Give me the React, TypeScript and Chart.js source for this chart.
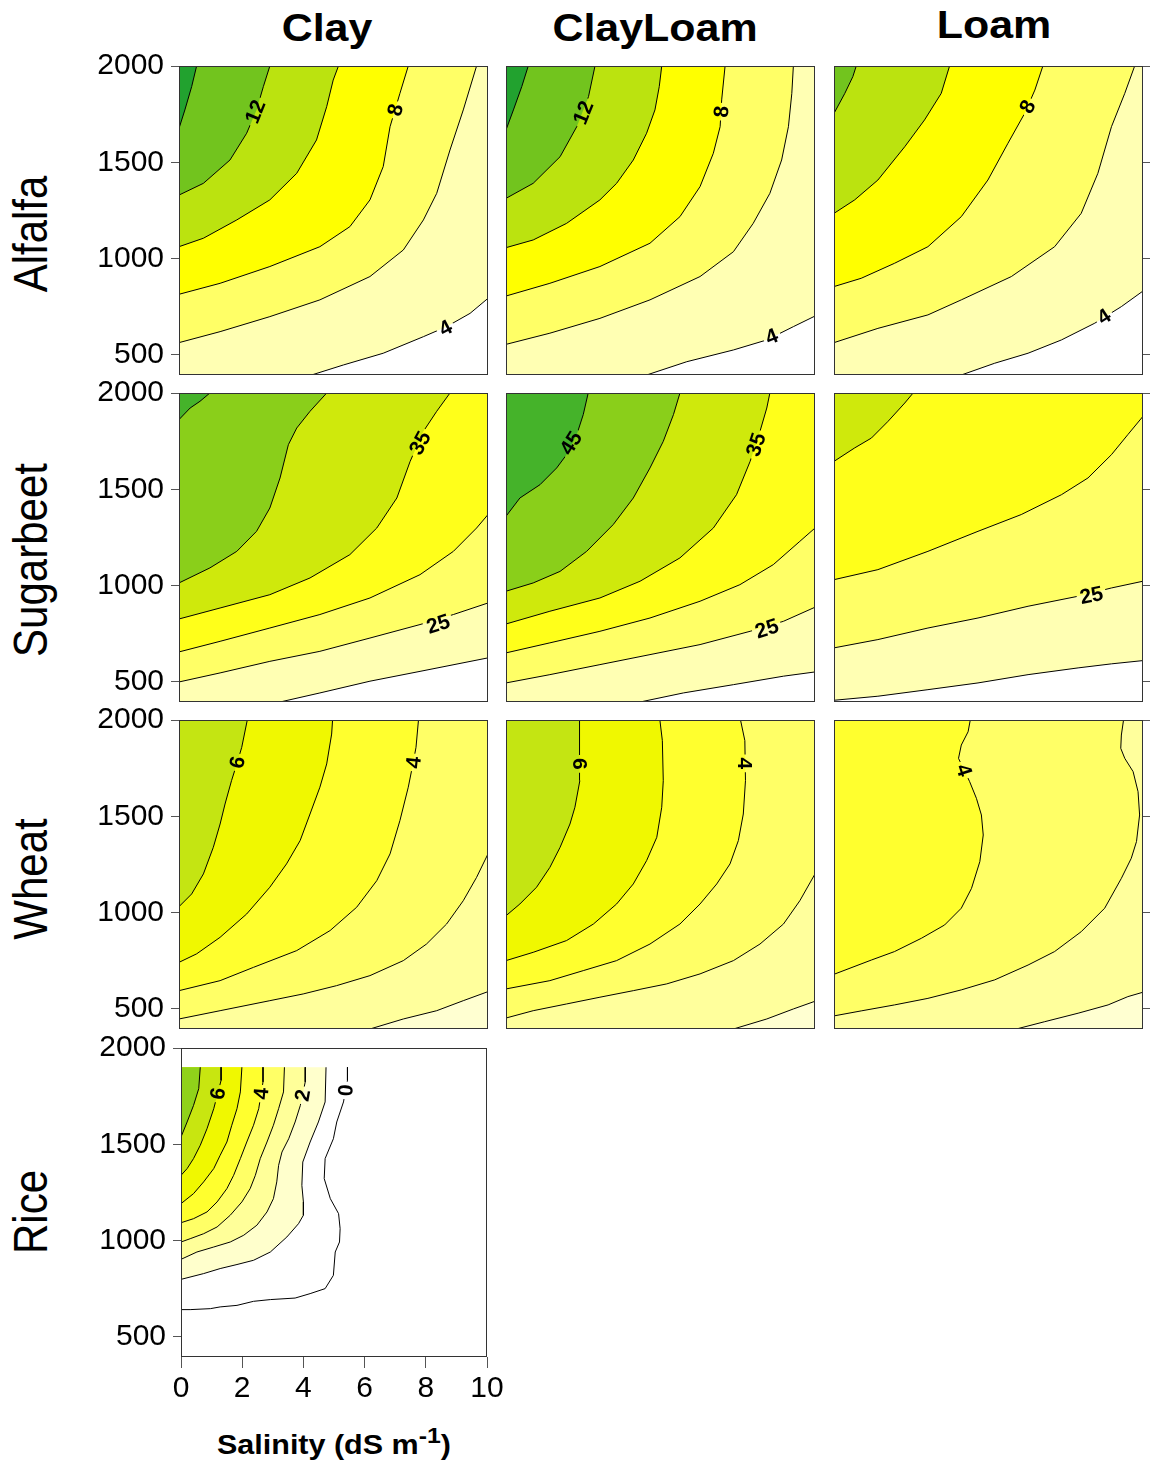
import React, { useEffect, useRef } from 'react';
import { Chart, registerables } from 'chart.js';

Chart.register(...registerables);

// ---------------- axes ----------------
const SALINITY_TICKS = [0, 2, 4, 6, 8, 10];
const WATER_TICKS = [500, 1000, 1500, 2000];
const SALINITY_MIN = 0;
const SALINITY_MAX = 10;
const WATER_MIN = 396;
const WATER_MAX = 2000;
const RICE_WATER_TOP = 1900;

const SOILS = ['Clay', 'ClayLoam', 'Loam'];
const CROPS = ['Alfalfa', 'Sugarbeet', 'Wheat', 'Rice'];
const X_TITLE = 'Salinity (dS m';
const X_TITLE_SUP = '-1';

type Pt = [number, number]; // [salinity dS/m, water]
type Label = { text: string; x: number; y: number; angle: number };

// ---------------- contour lines (lowest level first) ----------------
const ALFALFA_CLAY: Pt[][] = [
  [[4.29, 396], [5.32, 448], [6.61, 509], [7.91, 595], [8.66, 647], [9.42, 716], [10, 794]],
  [[0, 564], [1.33, 621], [2.94, 699], [4.56, 786], [6.18, 907], [7.26, 1045], [7.91, 1201], [8.34, 1339], [8.77, 1564], [9.2, 1772], [9.63, 2000]],
  [[0, 815], [1.33, 872], [2.94, 959], [4.56, 1062], [5.53, 1166], [6.18, 1305], [6.61, 1478], [6.83, 1685], [7.15, 1858], [7.42, 2000]],
  [[0, 1062], [0.79, 1106], [1.87, 1201], [2.94, 1305], [3.81, 1443], [4.45, 1616], [4.78, 1789], [4.99, 1927], [5.16, 2000]],
  [[0, 1330], [0.79, 1391], [1.65, 1512], [2.19, 1651], [2.51, 1772], [2.73, 1893], [2.94, 2000]],
  [[0, 1676], [0.19, 1772], [0.41, 1893], [0.57, 2000]],
];
const ALFALFA_CLAYLOAM: Pt[][] = [
  [[4.55, 396], [5.85, 465], [7.36, 526], [8.44, 578], [9.3, 647], [10, 702]],
  [[0, 555], [1.42, 613], [3.04, 690], [4.66, 786], [6.28, 907], [7.36, 1036], [8.0, 1183], [8.54, 1339], [8.92, 1512], [9.14, 1685], [9.25, 1858], [9.3, 2000]],
  [[0, 806], [1.42, 872], [3.04, 959], [4.66, 1080], [5.63, 1218], [6.28, 1374], [6.71, 1547], [6.93, 1685], [6.98, 1824], [7.09, 2000]],
  [[0, 1057], [0.88, 1097], [1.96, 1183], [3.04, 1305], [3.58, 1391], [4.12, 1512], [4.55, 1651], [4.82, 1772], [4.96, 1893], [5.04, 2000]],
  [[0, 1313], [0.88, 1391], [1.75, 1529], [2.29, 1685], [2.67, 1841], [2.88, 2000]],
  [[0, 1668], [0.24, 1772], [0.51, 1893], [0.72, 2000]],
];
const ALFALFA_LOAM: Pt[][] = [
  [[4.12, 396], [5.2, 457], [6.28, 509], [7.36, 578], [8.44, 665], [9.3, 751], [10, 832]],
  [[0, 564], [1.42, 638], [3.04, 708], [4.12, 786], [5.74, 907], [7.14, 1062], [8.0, 1235], [8.54, 1443], [8.98, 1685], [9.41, 1858], [9.73, 2000]],
  [[0, 855], [0.88, 898], [1.96, 976], [3.04, 1062], [4.12, 1218], [4.98, 1408], [5.63, 1599], [6.17, 1754], [6.5, 1875], [6.76, 2000]],
  [[0, 1235], [0.67, 1305], [1.42, 1408], [2.29, 1581], [2.93, 1720], [3.47, 1858], [3.74, 2000]],
  [[0, 1754], [0.35, 1858], [0.61, 1945], [0.72, 2000]],
];
const SUGARBEET_CLAY: Pt[][] = [
  [[3.27, 396], [4.56, 443], [6.18, 504], [7.8, 555], [10, 625]],
  [[0, 500], [1.33, 547], [2.94, 607], [4.56, 659], [6.18, 728], [7.8, 798], [8.88, 850], [10, 910]],
  [[0, 656], [1.33, 711], [2.94, 780], [4.56, 850], [6.18, 936], [7.8, 1057], [8.88, 1178], [9.63, 1299], [10, 1369]],
  [[0, 827], [1.33, 884], [2.94, 953], [4.24, 1040], [5.53, 1161], [6.4, 1299], [7.05, 1455], [7.48, 1645], [7.91, 1801], [8.34, 1905], [8.77, 2000]],
  [[0, 1014], [1.0, 1092], [1.87, 1178], [2.51, 1282], [2.94, 1403], [3.27, 1559], [3.54, 1732], [3.81, 1818], [4.24, 1905], [4.78, 2000]],
  [[0, 1862], [0.36, 1922], [0.68, 1957], [1.0, 2000]],
];
const SUGARBEET_CLAYLOAM: Pt[][] = [
  [[4.34, 396], [5.74, 443], [7.36, 486], [8.98, 530], [10, 552]],
  [[0, 495], [1.42, 538], [3.04, 590], [4.66, 642], [6.28, 694], [7.9, 763], [8.98, 815], [10, 888]],
  [[0, 651], [1.42, 703], [3.04, 763], [4.66, 832], [6.28, 919], [7.57, 1005], [8.65, 1109], [9.51, 1230], [10, 1299]],
  [[0, 801], [1.42, 867], [3.04, 936], [4.34, 1023], [5.63, 1144], [6.71, 1299], [7.46, 1472], [7.9, 1645], [8.22, 1801], [8.44, 1922], [8.54, 2000]],
  [[0, 971], [0.88, 1014], [1.75, 1074], [2.61, 1178], [3.47, 1317], [4.12, 1455], [4.66, 1611], [5.09, 1749], [5.42, 1888], [5.63, 2000]],
  [[0, 1360], [0.45, 1455], [1.1, 1524], [1.64, 1611], [1.96, 1680], [2.29, 1784], [2.5, 1888], [2.66, 2000]],
];
const SUGARBEET_LOAM: Pt[][] = [
  [[0, 405], [1.42, 426], [3.04, 460], [4.66, 495], [6.28, 538], [7.9, 573], [8.98, 594], [10, 611]],
  [[0, 677], [1.42, 720], [3.04, 780], [4.66, 832], [6.28, 893], [7.9, 945], [8.98, 988], [10, 1023]],
  [[0, 1031], [1.42, 1083], [3.04, 1178], [4.66, 1282], [6.06, 1369], [7.36, 1472], [8.22, 1559], [8.98, 1680], [9.51, 1784], [10, 1879]],
  [[0, 1645], [0.67, 1715], [1.21, 1766], [1.75, 1853], [2.29, 1948], [2.56, 2000]],
];
const WHEAT_CLAY: Pt[][] = [
  [[6.18, 396], [7.26, 448], [8.34, 491], [9.2, 543], [10, 590]],
  [[0, 448], [1.33, 491], [2.94, 543], [4.02, 578], [5.1, 621], [6.18, 673], [7.26, 751], [8.01, 837], [8.66, 941], [9.2, 1062], [9.63, 1183], [10, 1305]],
  [[0, 595], [1.33, 647], [2.41, 716], [3.81, 803], [4.89, 907], [5.75, 1028], [6.4, 1166], [6.83, 1305], [7.15, 1478], [7.42, 1651], [7.58, 1780], [7.67, 1858], [7.75, 2000]],
  [[0, 742], [0.57, 786], [1.33, 872], [2.19, 993], [2.94, 1132], [3.48, 1253], [3.92, 1374], [4.24, 1512], [4.56, 1651], [4.78, 1772], [4.94, 1927], [4.97, 2000]],
  [[0, 1031], [0.41, 1097], [0.79, 1201], [1.11, 1339], [1.33, 1460], [1.49, 1564], [1.7, 1685], [1.87, 1772], [2.03, 1858], [2.21, 2000]],
];
const WHEAT_CLAYLOAM: Pt[][] = [
  [[7.36, 396], [8.44, 448], [9.3, 500], [10, 540]],
  [[0, 453], [0.88, 491], [1.96, 526], [3.04, 561], [4.12, 595], [5.2, 630], [6.28, 682], [7.36, 751], [8.22, 837], [8.98, 941], [9.51, 1062], [10, 1201]],
  [[0, 604], [1.42, 647], [2.5, 699], [3.58, 751], [4.66, 837], [5.63, 941], [6.28, 1045], [6.82, 1149], [7.25, 1253], [7.52, 1374], [7.68, 1512], [7.75, 1685], [7.73, 1893], [7.59, 2000]],
  [[0, 751], [0.88, 794], [1.96, 855], [2.83, 941], [3.58, 1045], [4.12, 1149], [4.55, 1270], [4.88, 1391], [5.04, 1547], [5.09, 1685], [5.06, 1893], [4.98, 2000]],
  [[0, 984], [0.45, 1045], [0.99, 1132], [1.42, 1235], [1.75, 1339], [2.07, 1460], [2.23, 1547], [2.39, 1685], [2.39, 1806], [2.37, 2000]],
];
const WHEAT_LOAM: Pt[][] = [
  [[5.9, 396], [6.82, 434], [7.9, 478], [8.87, 521], [9.51, 564], [10, 587]],
  [[9.37, 2000], [9.3, 1922], [9.28, 1853], [9.41, 1801], [9.68, 1732], [9.84, 1628], [9.89, 1507], [9.79, 1369], [9.62, 1282], [9.3, 1178], [8.76, 1023], [8.0, 901], [7.14, 798], [6.28, 728], [5.2, 651], [4.12, 599], [3.04, 555], [1.96, 521], [0.88, 490], [0, 464]],
  [[4.41, 2000], [4.34, 1939], [4.12, 1870], [4.03, 1801], [4.39, 1680], [4.61, 1593], [4.77, 1507], [4.83, 1403], [4.72, 1265], [4.45, 1126], [4.12, 1023], [3.58, 936], [2.83, 867], [1.96, 798], [1.21, 754], [0, 680]],
];
const RICE_CLAY: Pt[][] = [
  [[5.44, 1900], [5.44, 1832], [5.31, 1720], [5.09, 1616], [4.98, 1529], [4.71, 1426], [4.68, 1322], [4.88, 1218], [5.15, 1140], [5.2, 1062], [5.18, 993], [5.04, 941], [4.98, 820], [4.71, 751], [4.22, 725], [3.73, 702], [2.92, 694], [2.37, 685], [1.83, 664], [1.28, 656], [0.96, 647], [0.3, 642], [0, 642]],
  [[4.74, 1900], [4.71, 1720], [4.49, 1616], [4.22, 1512], [3.98, 1408], [3.95, 1287], [4.0, 1201], [4.0, 1132], [3.84, 1088], [3.46, 1019], [2.92, 941], [2.37, 898], [1.83, 876], [1.28, 855], [0.74, 829], [0, 799]],
  [[4.06, 1900], [4.06, 1824], [3.9, 1702], [3.73, 1616], [3.52, 1529], [3.3, 1460], [3.19, 1391], [3.13, 1305], [3.02, 1218], [2.81, 1149], [2.48, 1080], [2.05, 1028], [1.61, 993], [1.07, 967], [0.52, 941], [0, 903]],
  [[3.38, 1900], [3.35, 1772], [3.19, 1685], [3.02, 1599], [2.81, 1512], [2.59, 1426], [2.43, 1339], [2.26, 1270], [1.99, 1201], [1.61, 1132], [1.18, 1071], [0.74, 1036], [0.3, 1010], [0, 993]],
  [[2.68, 1900], [2.68, 1824], [2.54, 1685], [2.37, 1599], [2.15, 1512], [1.94, 1426], [1.72, 1339], [1.5, 1270], [1.18, 1201], [0.85, 1149], [0.41, 1114], [0, 1093]],
  [[1.99, 1900], [1.94, 1772], [1.83, 1685], [1.66, 1599], [1.5, 1512], [1.28, 1443], [1.07, 1374], [0.74, 1305], [0.41, 1244], [0, 1192]],
  [[1.31, 1900], [1.31, 1832], [1.07, 1685], [0.85, 1581], [0.63, 1495], [0.41, 1426], [0.2, 1374], [0, 1339]],
  [[0.63, 1900], [0.58, 1789], [0.41, 1702], [0.2, 1616], [0, 1538]],
];

// ---------------- contour labels ----------------
const ALFALFA_CLAY_LABELS: Label[] = [
  { text: '12', x: 2.47, y: 1763, angle: -68 },
  { text: '8', x: 7.0, y: 1772, angle: -76 },
  { text: '4', x: 8.62, y: 640, angle: -28 },
];
const ALFALFA_CLAYLOAM_LABELS: Label[] = [
  { text: '12', x: 2.5, y: 1758, angle: -68 },
  { text: '8', x: 6.97, y: 1763, angle: -86 },
  { text: '4', x: 8.6, y: 596, angle: -22 },
];
const ALFALFA_LOAM_LABELS: Label[] = [
  { text: '8', x: 6.26, y: 1789, angle: -62 },
  { text: '4', x: 8.74, y: 699, angle: -33 },
];
const SUGARBEET_CLAY_LABELS: Label[] = [
  { text: '35', x: 7.8, y: 1740, angle: -62 },
  { text: '25', x: 8.39, y: 801, angle: -18 },
];
const SUGARBEET_CLAYLOAM_LABELS: Label[] = [
  { text: '45', x: 2.1, y: 1740, angle: -58 },
  { text: '35', x: 8.09, y: 1732, angle: -72 },
  { text: '25', x: 8.44, y: 777, angle: -18 },
];
const SUGARBEET_LOAM_LABELS: Label[] = [{ text: '25', x: 8.33, y: 950, angle: -12 }];
const WHEAT_CLAY_LABELS: Label[] = [
  { text: '6', x: 1.89, y: 1780, angle: -78 },
  { text: '4', x: 7.59, y: 1780, angle: -84 },
];
const WHEAT_CLAYLOAM_LABELS: Label[] = [
  { text: '6', x: 2.39, y: 1772, angle: 90 },
  { text: '4', x: 7.74, y: 1775, angle: 90 },
];
const WHEAT_LOAM_LABELS: Label[] = [{ text: '4', x: 4.21, y: 1740, angle: 72 }];
const RICE_CLAY_LABELS: Label[] = [
  { text: '6', x: 1.2, y: 1763, angle: -80 },
  { text: '4', x: 2.62, y: 1763, angle: -85 },
  { text: '2', x: 3.97, y: 1755, angle: -80 },
  { text: '0', x: 5.38, y: 1780, angle: -85 },
];

// ---------------- colours: [below lowest contour, above contour 1, above contour 2, ...] ----------------
const ALFALFA_COLORS = ['#FFFFFF', '#FFFFB3', '#FFFF66', '#FFFF00', '#BBE30F', '#72C41E', '#22A22F'];
const SUGARBEET_COLORS = ['#FFFFFF', '#FFFFB3', '#FFFF66', '#FFFF1A', '#CFE90C', '#8ACF1A', '#45B32A'];
const WHEAT_COLORS = ['#FFFFD1', '#FFFF9C', '#FFFF66', '#FFFF2E', '#F0F800', '#C4E512'];
const RICE_COLORS = ['#FFFFFF', '#FFFFFF', '#FFFFCC', '#FFFF99', '#FFFF66', '#FFFF2E', '#F0F800', '#C8E610', '#90D21A'];

type PanelSpec = {
  row: number;
  col: number;
  lines: Pt[][];
  labels: Label[];
  colors: string[];
  top?: number;
  xAxis?: boolean;
};

const PANELS: PanelSpec[] = [
  { row: 0, col: 0, lines: ALFALFA_CLAY, labels: ALFALFA_CLAY_LABELS, colors: ALFALFA_COLORS },
  { row: 0, col: 1, lines: ALFALFA_CLAYLOAM, labels: ALFALFA_CLAYLOAM_LABELS, colors: ALFALFA_COLORS },
  { row: 0, col: 2, lines: ALFALFA_LOAM, labels: ALFALFA_LOAM_LABELS, colors: ALFALFA_COLORS },
  { row: 1, col: 0, lines: SUGARBEET_CLAY, labels: SUGARBEET_CLAY_LABELS, colors: SUGARBEET_COLORS },
  { row: 1, col: 1, lines: SUGARBEET_CLAYLOAM, labels: SUGARBEET_CLAYLOAM_LABELS, colors: SUGARBEET_COLORS },
  { row: 1, col: 2, lines: SUGARBEET_LOAM, labels: SUGARBEET_LOAM_LABELS, colors: SUGARBEET_COLORS },
  { row: 2, col: 0, lines: WHEAT_CLAY, labels: WHEAT_CLAY_LABELS, colors: WHEAT_COLORS },
  { row: 2, col: 1, lines: WHEAT_CLAYLOAM, labels: WHEAT_CLAYLOAM_LABELS, colors: WHEAT_COLORS },
  { row: 2, col: 2, lines: WHEAT_LOAM, labels: WHEAT_LOAM_LABELS, colors: WHEAT_COLORS },
  { row: 3, col: 0, lines: RICE_CLAY, labels: RICE_CLAY_LABELS, colors: RICE_COLORS, top: RICE_WATER_TOP, xAxis: true },
];

// ---------------- layout ----------------
const FONT = '"Liberation Sans", Arial, Helvetica, sans-serif';
const COL_LEFT = [179, 506, 834];
const ROW_TOP = [66, 393, 720, 1048];
const PLOT_W = 309;
const PLOT_H = 309;
const PAD_V = 30;

function geometry(p: PanelSpec) {
  const rice = !!p.xAxis;
  const plotLeft = rice ? 181 : COL_LEFT[p.col];
  const plotW = rice ? 306 : PLOT_W;
  const leftAxis = p.col === 0 ? plotLeft : 0;
  const padLeft = p.col === 0 ? 0 : 10;
  const rightAxis = p.col === 2 ? 8 : 0;
  const padRight = p.col === 2 ? 0 : 22;
  const bottomAxis = rice ? 62 : 0;
  const padBottom = rice ? 0 : PAD_V;
  return {
    left: plotLeft - leftAxis - padLeft,
    top: ROW_TOP[p.row] - PAD_V,
    width: padLeft + leftAxis + plotW + rightAxis + padRight,
    height: PAD_V + PLOT_H + bottomAxis + padBottom,
    leftAxis, padLeft, rightAxis, padRight, bottomAxis, padBottom,
  };
}

// boundary parameter going round the plot: right edge 0..1, top 1..2, left 2..3, bottom 3..4
function edgeParam(p: Pt, top: number) {
  const [x, y] = p;
  const h = top - WATER_MIN;
  const w = SALINITY_MAX - SALINITY_MIN;
  const d = [(SALINITY_MAX - x) / w, (top - y) / h, (x - SALINITY_MIN) / w, (y - WATER_MIN) / h];
  let k = 0;
  for (let i = 1; i < 4; i++) if (d[i] < d[k]) k = i;
  if (k === 0) return (y - WATER_MIN) / h;
  if (k === 1) return 1 + (SALINITY_MAX - x) / w;
  if (k === 2) return 2 + (top - y) / h;
  return 3 + (x - SALINITY_MIN) / w;
}

// polygon of the region above / left of a contour (higher values)
function upperLeftPolygon(line: Pt[], top: number): Pt[] {
  const corners: { s: number; p: Pt }[] = [
    { s: 1, p: [SALINITY_MAX, top] },
    { s: 2, p: [SALINITY_MIN, top] },
    { s: 3, p: [SALINITY_MIN, WATER_MIN] },
  ];
  const s0 = edgeParam(line[0], top);
  const s1 = edgeParam(line[line.length - 1], top);
  const pts = line.slice();
  if (s1 > s0) {
    for (let i = corners.length - 1; i >= 0; i--) if (corners[i].s > s0 && corners[i].s < s1) pts.push(corners[i].p);
  } else {
    for (let i = 0; i < corners.length; i++) if (corners[i].s > s1 && corners[i].s < s0) pts.push(corners[i].p);
  }
  return pts;
}

const LABEL_FONT = 'bold 21px ' + FONT;
const LABEL_H = 20;

function labelBoxes(chart: any, labels: Label[]) {
  const ctx = chart.ctx as CanvasRenderingContext2D;
  ctx.save();
  ctx.font = LABEL_FONT;
  const res = labels.map((l) => {
    const px = chart.scales.x.getPixelForValue(l.x);
    const py = chart.scales.y.getPixelForValue(l.y);
    const w = ctx.measureText(l.text).width + 6;
    const h = LABEL_H;
    const a = (l.angle * Math.PI) / 180;
    const c = Math.cos(a), s = Math.sin(a);
    const corners = [[-w / 2, -h / 2], [w / 2, -h / 2], [w / 2, h / 2], [-w / 2, h / 2]].map(([dx, dy]) => [
      px + dx * c - dy * s,
      py + dx * s + dy * c,
    ]);
    return { px, py, a, corners, text: l.text };
  });
  ctx.restore();
  return res;
}

function buildConfig(p: PanelSpec, g: ReturnType<typeof geometry>): any {
  const top = p.top ?? WATER_MAX;
  const n = p.lines.length;
  const datasets: any[] = [];
  p.lines.forEach((line, i) => {
    datasets.push({
      data: upperLeftPolygon(line, top).map(([x, y]) => ({ x, y })),
      fill: 'shape',
      backgroundColor: p.colors[i + 1],
      borderColor: 'rgba(0,0,0,0)',
      borderWidth: 0,
      pointRadius: 0,
      tension: 0,
      order: 2 * n - i,
    });
  });
  p.lines.forEach((line) => {
    datasets.push({
      data: line.map(([x, y]) => ({ x, y })),
      fill: false,
      borderColor: '#000000',
      borderWidth: 1,
      pointRadius: 0,
      tension: 0,
      order: 0,
      isContour: true,
    });
  });

  const tickFont = { family: FONT, size: 30 };
  const scales: any = {
    x: {
      type: 'linear',
      min: SALINITY_MIN,
      max: SALINITY_MAX,
      display: !!p.xAxis,
      position: 'bottom',
      afterBuildTicks: (s: any) => {
        s.ticks = SALINITY_TICKS.map((v) => ({ value: v }));
      },
      afterFit: (s: any) => {
        s.height = g.bottomAxis;
      },
      grid: { drawOnChartArea: false, drawTicks: true, tickLength: 11, color: '#555555', lineWidth: 1 },
      border: { display: false },
      ticks: { font: tickFont, color: '#000', padding: 3, maxRotation: 0, autoSkip: false, callback: (v: any) => String(v) },
    },
    y: {
      type: 'linear',
      min: WATER_MIN,
      max: WATER_MAX,
      display: p.col === 0,
      position: 'left',
      afterBuildTicks: (s: any) => {
        s.ticks = WATER_TICKS.map((v) => ({ value: v }));
      },
      afterFit: (s: any) => {
        s.width = g.leftAxis;
      },
      grid: { drawOnChartArea: false, drawTicks: true, tickLength: 8, color: '#555555', lineWidth: 1 },
      border: { display: false },
      ticks: { font: tickFont, color: '#000', padding: 7, autoSkip: false, callback: (v: any) => String(v) },
    },
  };
  if (p.col === 2) {
    scales.yr = {
      type: 'linear',
      min: WATER_MIN,
      max: WATER_MAX,
      display: true,
      position: 'right',
      afterBuildTicks: (s: any) => {
        s.ticks = WATER_TICKS.map((v) => ({ value: v }));
      },
      afterFit: (s: any) => {
        s.width = g.rightAxis;
      },
      grid: { drawOnChartArea: false, drawTicks: true, tickLength: 7, color: '#555555', lineWidth: 1 },
      border: { display: false },
      ticks: { display: false },
    };
  }

  const decor = {
    id: 'contourDecor',
    beforeDatasetsDraw(chart: any) {
      const { ctx, chartArea: a } = chart;
      ctx.save();
      ctx.fillStyle = p.colors[0];
      ctx.fillRect(a.left, a.top, a.right - a.left, a.bottom - a.top);
      ctx.restore();
    },
    beforeDatasetDraw(chart: any, args: any) {
      const ds = chart.data.datasets[args.index];
      if (!ds.isContour) return;
      const ctx = chart.ctx as CanvasRenderingContext2D;
      ctx.save();
      ctx.beginPath();
      ctx.rect(0, 0, chart.width, chart.height);
      labelBoxes(chart, p.labels).forEach((b) => {
        ctx.moveTo(b.corners[0][0], b.corners[0][1]);
        for (let i = 1; i < 4; i++) ctx.lineTo(b.corners[i][0], b.corners[i][1]);
        ctx.closePath();
      });
      ctx.clip('evenodd');
    },
    afterDatasetDraw(chart: any, args: any) {
      const ds = chart.data.datasets[args.index];
      if (!ds.isContour) return;
      chart.ctx.restore();
    },
    afterDatasetsDraw(chart: any) {
      const ctx = chart.ctx as CanvasRenderingContext2D;
      labelBoxes(chart, p.labels).forEach((b) => {
        ctx.save();
        ctx.translate(b.px, b.py);
        ctx.rotate(b.a);
        ctx.font = LABEL_FONT;
        ctx.fillStyle = '#000';
        ctx.textAlign = 'center';
        ctx.textBaseline = 'middle';
        ctx.fillText(b.text, 0, 1);
        ctx.restore();
      });
    },
    afterDraw(chart: any) {
      const { ctx, chartArea: a } = chart;
      ctx.save();
      ctx.strokeStyle = '#333333';
      ctx.lineWidth = 1;
      ctx.strokeRect(a.left + 0.5, a.top + 0.5, a.right - a.left - 1, a.bottom - a.top - 1);
      ctx.restore();
    },
  };

  return {
    type: 'line',
    data: { datasets },
    options: {
      animation: false,
      responsive: false,
      maintainAspectRatio: false,
      events: [],
      layout: { padding: { left: g.padLeft, right: g.padRight, top: PAD_V, bottom: g.padBottom } },
      plugins: { legend: { display: false }, tooltip: { enabled: false }, title: { display: false } },
      elements: { point: { radius: 0 }, line: { tension: 0 } },
      scales,
    },
    plugins: [decor],
  };
}

function Panel({ spec }: { spec: PanelSpec }) {
  const ref = useRef<HTMLCanvasElement>(null);
  const g = geometry(spec);
  useEffect(() => {
    const chart = new Chart(ref.current as HTMLCanvasElement, buildConfig(spec, g));
    return () => chart.destroy();
  }, []);
  return (
    <canvas
      ref={ref}
      width={g.width}
      height={g.height}
      style={{ position: 'absolute', left: g.left, top: g.top, width: g.width, height: g.height }}
    />
  );
}

const TITLE_CENTERS = [326.5, 654.5, 993.5];
const TITLE_TOPS = [9, 9, 6];
const ROW_LABEL_CENTERS = [234, 560, 879, 1212];

export default function App() {
  return (
    <div style={{ position: 'absolute', left: 0, top: 0, width: 1151, height: 1468, background: '#fff', fontFamily: FONT, overflow: 'hidden' }}>
      {SOILS.map((s, i) => (
        <div
          key={s}
          style={{
            position: 'absolute',
            left: TITLE_CENTERS[i] - 150,
            top: TITLE_TOPS[i],
            width: 300,
            textAlign: 'center',
            fontSize: 38,
            lineHeight: '38px',
            fontWeight: 'bold',
            color: '#000',
            transform: 'scaleX(1.13)',
          }}
        >
          {s}
        </div>
      ))}
      {CROPS.map((c, i) => (
        <div
          key={c}
          style={{
            position: 'absolute',
            left: 31,
            top: ROW_LABEL_CENTERS[i],
            fontSize: 42,
            lineHeight: '42px',
            whiteSpace: 'nowrap',
            color: '#000',
            transform: 'translate(-50%, -50%) rotate(-90deg) scaleY(1.13)',
          }}
        >
          {c}
        </div>
      ))}
      {PANELS.map((p, i) => (
        <Panel key={i} spec={p} />
      ))}
      <div
        style={{
          position: 'absolute',
          left: 134,
          top: 1432,
          width: 400,
          textAlign: 'center',
          fontSize: 27,
          lineHeight: '27px',
          fontWeight: 'bold',
          color: '#000',
          whiteSpace: 'nowrap',
          transform: 'scaleX(1.13)',
        }}
      >
        {X_TITLE}
        <span style={{ fontSize: 22, position: 'relative', top: -11 }}>{X_TITLE_SUP}</span>)
      </div>
    </div>
  );
}
